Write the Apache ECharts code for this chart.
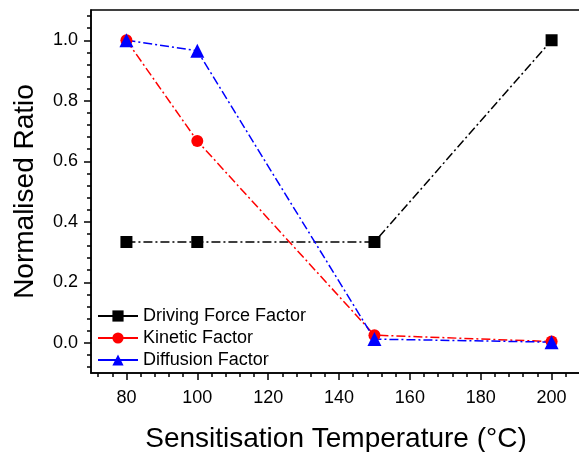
<!DOCTYPE html>
<html>
<head>
<meta charset="utf-8">
<script src="https://cdn.jsdelivr.net/npm/echarts@6/dist/echarts.min.js"></script>
<style>
  html, body { margin: 0; padding: 0; background: #fff; }
  #chart { width: 579px; height: 452px; }
</style>
</head>
<body>
<div id="chart"></div>
<script>
// Sensitisation temperatures (°C)
const temperatures = [80, 100, 150, 200];

// Normalised ratios for each factor
const drivingForce = [0.333, 0.333, 0.333, 1.0];
const kinetic      = [1.0, 0.667, 0.025, 0.004];
const diffusion    = [1.0, 0.965, 0.012, 0.002];

// Axis ticks
const xMajorTicks = [80, 100, 120, 140, 160, 180, 200];
const xMinorTicks = [72, 76, 84, 88, 92, 96, 104, 108, 112, 116, 124, 128, 132, 136,
                     144, 148, 152, 156, 164, 168, 172, 176, 184, 188, 192, 196, 204];
const yMajorTicks = [0.0, 0.2, 0.4, 0.6, 0.8, 1.0];
const yMinorTicks = [-0.08, -0.04, 0.04, 0.08, 0.12, 0.16, 0.24, 0.28, 0.32, 0.36,
                     0.44, 0.48, 0.52, 0.56, 0.64, 0.68, 0.72, 0.76, 0.84, 0.88,
                     0.92, 0.96, 1.04, 1.08];

const pairs = (ys) => temperatures.map((t, i) => [t, ys[i]]);

const FONT = 'Liberation Sans, Arial, sans-serif';
const dashDot = [9, 3, 2, 3];

const chart = echarts.init(document.getElementById('chart'), null, { renderer: 'canvas' });

const xBase = { type: 'value', min: 70, max: 208.3, gridIndex: 0, position: 'bottom' };
const yBase = { type: 'value', min: -0.1, max: 1.1, gridIndex: 0, position: 'left' };

chart.setOption({
  backgroundColor: '#ffffff',
  animation: false,
  grid: {
    left: 91, top: 10, width: 490, height: 363,
    containLabel: false,
    outerBoundsMode: 'none',
    show: true, borderColor: '#000', borderWidth: 1.5, backgroundColor: 'transparent'
  },
  xAxis: [
    Object.assign({}, xBase, {
      name: 'Sensitisation Temperature (°C)',
      nameLocation: 'middle',
      nameGap: 52,
      nameTextStyle: { fontFamily: FONT, fontSize: 28, color: '#000' },
      axisLine: { show: true, onZero: false, lineStyle: { color: '#000', width: 1.5 } },
      axisTick: { show: true, inside: false, length: 7, customValues: xMajorTicks,
                  lineStyle: { color: '#000', width: 1.5 } },
      axisLabel: { show: true, customValues: xMajorTicks, margin: 16,
                   fontFamily: FONT, fontSize: 18, color: '#000' },
      splitLine: { show: false }
    }),
    Object.assign({}, xBase, {
      axisLine: { show: false, onZero: false },
      axisTick: { show: true, inside: false, length: 4, customValues: xMinorTicks,
                  lineStyle: { color: '#000', width: 1.5 } },
      axisLabel: { show: false },
      splitLine: { show: false }
    })
  ],
  yAxis: [
    Object.assign({}, yBase, {
      name: 'Normalised Ratio',
      nameLocation: 'middle',
      nameGap: 52,
      nameTextStyle: { fontFamily: FONT, fontSize: 28, color: '#000' },
      axisLine: { show: true, onZero: false, lineStyle: { color: '#000', width: 1.5 } },
      axisTick: { show: true, inside: false, length: 7, customValues: yMajorTicks,
                  lineStyle: { color: '#000', width: 1.5 } },
      axisLabel: { show: true, customValues: yMajorTicks, margin: 13,
                   formatter: (v) => Number(v).toFixed(1),
                   fontFamily: FONT, fontSize: 18, color: '#000' },
      splitLine: { show: false }
    }),
    Object.assign({}, yBase, {
      axisLine: { show: false, onZero: false },
      axisTick: { show: true, inside: false, length: 4, customValues: yMinorTicks,
                  lineStyle: { color: '#000', width: 1.5 } },
      axisLabel: { show: false },
      splitLine: { show: false }
    })
  ],
  legend: {
    orient: 'vertical',
    left: 97,
    top: 307,
    padding: 0,
    itemWidth: 40,
    itemHeight: 14,
    itemGap: 4,
    lineStyle: { type: 'solid' },
    textStyle: { fontFamily: FONT, fontSize: 18, color: '#000' },
    data: ['Driving Force Factor', 'Kinetic Factor', 'Diffusion Factor']
  },
  series: [
    {
      name: 'Driving Force Factor',
      type: 'line',
      data: pairs(drivingForce),
      symbol: 'rect',
      symbolSize: 12,
      itemStyle: { color: '#000' },
      lineStyle: { color: '#000', width: 1.5, type: dashDot }
    },
    {
      name: 'Kinetic Factor',
      type: 'line',
      data: pairs(kinetic),
      symbol: 'circle',
      symbolSize: 12,
      itemStyle: { color: '#ff0000' },
      lineStyle: { color: '#ff0000', width: 1.5, type: dashDot }
    },
    {
      name: 'Diffusion Factor',
      type: 'line',
      data: pairs(diffusion),
      symbol: 'triangle',
      symbolSize: 14,
      itemStyle: { color: '#0000ff' },
      lineStyle: { color: '#0000ff', width: 1.5, type: dashDot }
    }
  ]
});
</script>
</body>
</html>
